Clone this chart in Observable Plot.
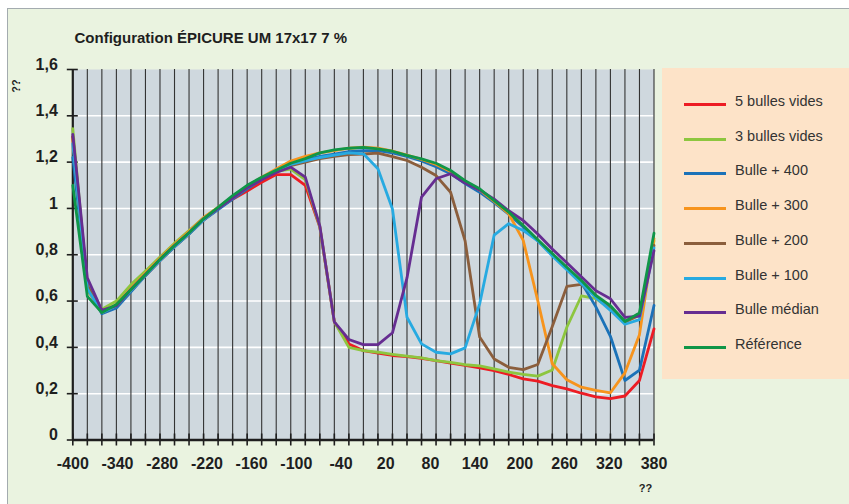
<!DOCTYPE html>
<html>
<head>
<meta charset="utf-8">
<script src="https://cdn.jsdelivr.net/npm/d3@7"></script>
<script src="https://cdn.jsdelivr.net/npm/@observablehq/plot@0.6"></script>
<style>
  html, body { margin: 0; padding: 0; background: #ffffff; }
  #wrap { position: relative; width: 849px; height: 504px; overflow: hidden; font-family: "Liberation Sans", Arial, sans-serif; }
  #panel { position: absolute; left: 7px; top: 8px; width: 860px; height: 520px; background: #eaf3e0; border-left: 1px solid #a3abaf; border-top: 1px solid #a3abaf; }
  #legendBox { position: absolute; left: 662px; top: 68px; width: 200px; height: 311px; background: #fde3c8; }
  #chart { position: absolute; left: 0; top: 0; }
  .lg-sw { position: absolute; left: 684px; width: 42px; height: 3px; }
  .lg-tx { position: absolute; left: 735px; font-size: 14.5px; color: #333; white-space: nowrap; line-height: 20px; height: 20px; }
</style>
</head>
<body>
<div id="wrap">
  <div id="panel"></div>
  <div id="legendBox"></div>
  <div id="chart"></div>
</div>
<script>
// ---- Data ----
const title = "Configuration ÉPICURE UM 17x17 7 %";
const xs = [-400, -380.5, -361, -341.5, -322, -302.5, -283, -263.5, -244, -224.5, -205, -185.5, -166, -146.5, -127, -107.5, -88, -68.5, -49, -29.5, -10, 9.5, 29, 48.5, 68, 87.5, 107, 126.5, 146, 165.5, 185, 204.5, 224, 243.5, 263, 282.5, 302, 321.5, 341, 360.5, 380];
const xLabels = [-400, -340, -280, -220, -160, -100, -40, 20, 80, 140, 200, 260, 320, 380];
const yTicks = [0, 0.2, 0.4, 0.6, 0.8, 1, 1.2, 1.4, 1.6];
const yGrid = [0.2, 0.4, 0.6, 0.8, 1, 1.2, 1.4];

const seriesNames = ["5 bulles vides", "3 bulles vides", "Bulle + 400", "Bulle + 300", "Bulle + 200", "Bulle + 100", "Bulle médian", "Référence"];
const seriesColors = ["#ed1c24", "#8dc63f", "#1b72b8", "#f7941d", "#8b5e3c", "#27aae1", "#662d91", "#0f9648"];

const cinqBulles = [1.31, 0.65, 0.555, 0.575, 0.645, 0.71, 0.775, 0.835, 0.89, 0.95, 1.0, 1.04, 1.075, 1.113, 1.146, 1.146, 1.10, 0.92, 0.51, 0.415, 0.386, 0.375, 0.365, 0.36, 0.353, 0.343, 0.332, 0.322, 0.312, 0.30, 0.283, 0.264, 0.254, 0.235, 0.221, 0.202, 0.186, 0.179, 0.19, 0.257, 0.48];
const troisBulles = [1.345, 0.66, 0.565, 0.60, 0.671, 0.73, 0.79, 0.85, 0.905, 0.96, 1.005, 1.05, 1.095, 1.13, 1.16, 1.17, 1.125, 0.92, 0.51, 0.40, 0.386, 0.379, 0.37, 0.362, 0.355, 0.343, 0.335, 0.325, 0.32, 0.307, 0.293, 0.283, 0.276, 0.302, 0.487, 0.622, 0.61, 0.57, 0.51, 0.54, 0.86];
const bulle400 = [1.22, 0.66, 0.545, 0.57, 0.64, 0.71, 0.775, 0.835, 0.89, 0.95, 0.995, 1.04, 1.085, 1.125, 1.16, 1.19, 1.21, 1.225, 1.235, 1.245, 1.25, 1.25, 1.24, 1.225, 1.205, 1.18, 1.15, 1.107, 1.07, 1.025, 0.975, 0.92, 0.86, 0.8, 0.74, 0.68, 0.575, 0.448, 0.257, 0.302, 0.581];
const bulle300 = [1.3, 0.65, 0.55, 0.585, 0.655, 0.72, 0.785, 0.845, 0.9, 0.96, 1.005, 1.05, 1.095, 1.135, 1.17, 1.205, 1.225, 1.24, 1.25, 1.26, 1.265, 1.26, 1.248, 1.23, 1.212, 1.19, 1.16, 1.115, 1.08, 1.03, 0.977, 0.862, 0.602, 0.329, 0.26, 0.228, 0.214, 0.204, 0.29, 0.455, 0.87];
const bulle200 = [1.31, 0.67, 0.55, 0.58, 0.645, 0.71, 0.775, 0.835, 0.89, 0.95, 1.0, 1.045, 1.09, 1.13, 1.16, 1.185, 1.2, 1.215, 1.225, 1.232, 1.235, 1.239, 1.224, 1.207, 1.178, 1.142, 1.07, 0.86, 0.445, 0.35, 0.314, 0.304, 0.326, 0.49, 0.663, 0.672, 0.62, 0.57, 0.51, 0.54, 0.84];
const bulle100 = [1.28, 0.653, 0.55, 0.58, 0.645, 0.71, 0.775, 0.835, 0.89, 0.95, 1.0, 1.045, 1.09, 1.13, 1.165, 1.19, 1.205, 1.22, 1.23, 1.24, 1.236, 1.171, 0.998, 0.53, 0.415, 0.379, 0.372, 0.398, 0.588, 0.885, 0.934, 0.905, 0.86, 0.795, 0.735, 0.675, 0.615, 0.56, 0.50, 0.52, 0.83];
const bulleMedian = [1.32, 0.70, 0.56, 0.58, 0.65, 0.715, 0.78, 0.84, 0.895, 0.955, 1.0, 1.045, 1.09, 1.125, 1.155, 1.178, 1.135, 0.925, 0.51, 0.434, 0.412, 0.412, 0.463, 0.70, 1.049, 1.128, 1.15, 1.11, 1.08, 1.04, 0.99, 0.948, 0.89, 0.825, 0.765, 0.705, 0.645, 0.61, 0.53, 0.535, 0.818];
const reference = [1.10, 0.62, 0.55, 0.585, 0.65, 0.715, 0.78, 0.84, 0.895, 0.955, 1.005, 1.055, 1.10, 1.135, 1.165, 1.195, 1.215, 1.24, 1.253, 1.26, 1.264, 1.257, 1.247, 1.229, 1.214, 1.195, 1.164, 1.12, 1.085, 1.034, 0.984, 0.926, 0.865, 0.805, 0.746, 0.689, 0.624, 0.58, 0.512, 0.549, 0.893];

const seriesValues = [cinqBulles, troisBulles, bulle400, bulle300, bulle200, bulle100, bulleMedian, reference];

// ---- Build table ----
const table = [];
seriesNames.forEach((name, s) => {
  seriesValues[s].forEach((v, i) => table.push({series: name, x: xs[i], y: v}));
});

const W = 849, H = 504;
const ml = 72.3, mr = 195.5, mt = 69, mb = 64.5;
const plotW = W - ml - mr, plotH = H - mt - mb;
const fmt = d => d3.format(".1~f")(d).replace(".", ",");
const font = "Liberation Sans, Arial, sans-serif";

const chart = Plot.plot({
  width: W,
  height: H,
  marginLeft: ml,
  marginRight: mr,
  marginTop: mt,
  marginBottom: mb,
  style: {background: "transparent", fontFamily: font, color: "#1e1e1e"},
  x: {domain: [-400, 380], axis: null},
  y: {domain: [0, 1.6], axis: null},
  color: {domain: seriesNames, range: seriesColors},
  marks: [
    Plot.frame({fill: "#cfd8de", stroke: null}),
    Plot.ruleY(yGrid, {stroke: "#ffffff", strokeWidth: 1.6}),
    Plot.ruleX(xs.slice(1), {stroke: "#333333", strokeWidth: 1.1}),
    Plot.tickX(xs, {x: d => d, insetTop: plotH - 12, dy: 6, stroke: "#1e1e1e", strokeWidth: 1.6}),
    Plot.tickY(yTicks, {y: d => d, insetRight: plotW - 11, dx: -5.5, stroke: "#1e1e1e", strokeWidth: 1.6}),
    Plot.ruleY([0], {stroke: "#1e1e1e", strokeWidth: 2.6}),
    Plot.ruleX([-400], {stroke: "#1e1e1e", strokeWidth: 2.2}),
    Plot.line(table, {x: "x", y: "y", z: "series", stroke: "series", strokeWidth: 2.8, strokeLinejoin: "round"}),
    Plot.text(xLabels, {x: d => d, frameAnchor: "bottom", dy: 24, lineAnchor: "middle", textAnchor: "middle", text: d => String(d), fontSize: 16, fontWeight: "bold", fill: "#1e1e1e"}),
    Plot.text(yTicks, {y: d => d, frameAnchor: "left", dx: -15, dy: -5, textAnchor: "end", lineAnchor: "middle", text: fmt, fontSize: 16, fontWeight: "bold", fill: "#1e1e1e"}),
    Plot.text([title], {frameAnchor: "top-left", dx: 1.7, dy: -31, textAnchor: "start", lineAnchor: "middle", fontSize: 15, fontWeight: "bold", fill: "#1e1e1e"}),
    Plot.text(["??"], {frameAnchor: "top-left", dx: -56.8, dy: 16.5, rotate: -90, textAnchor: "middle", lineAnchor: "middle", fontSize: 11, fontWeight: "bold", fill: "#1e1e1e"}),
    Plot.text(["??"], {frameAnchor: "bottom-right", dx: -8.5, dy: 48, textAnchor: "middle", lineAnchor: "middle", fontSize: 11, fontWeight: "bold", fill: "#1e1e1e"})
  ]
});
document.getElementById("chart").appendChild(chart);

// ---- Legend ----
const wrap = document.getElementById("wrap");
const legendY = [104.3, 139, 173.7, 208.5, 243.3, 278.2, 312.8, 347.4];
seriesNames.forEach((name, i) => {
  const sw = document.createElement("div");
  sw.className = "lg-sw";
  sw.style.top = (legendY[i] - 1.5) + "px";
  sw.style.background = seriesColors[i];
  wrap.appendChild(sw);
  const tx = document.createElement("div");
  tx.className = "lg-tx";
  tx.style.top = (legendY[i] - 13.5) + "px";
  tx.textContent = name;
  wrap.appendChild(tx);
});
</script>
</body>
</html>
